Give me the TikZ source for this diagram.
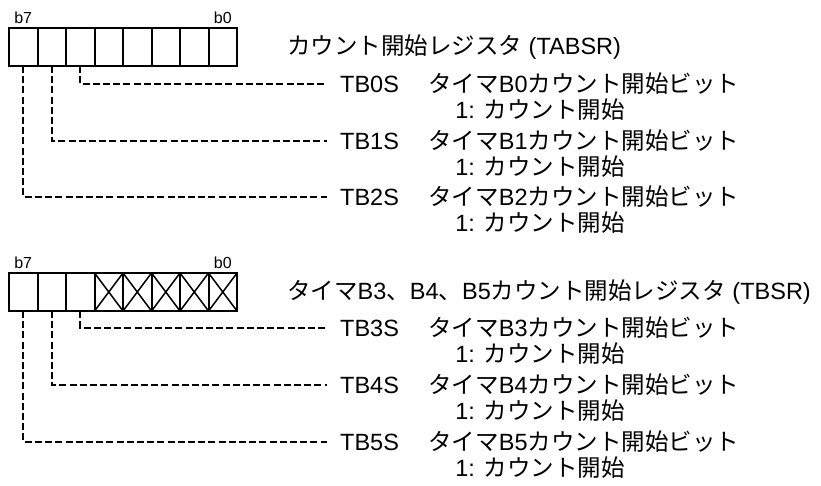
\documentclass[tikz,border=0pt]{standalone}
\usepackage{fontspec}
\setmainfont{Liberation Sans}
\newfontfamily\jafont{Noto Sans CJK JP}
\newcommand\ja[1]{{\jafont #1}}
\usetikzlibrary{positioning}
\tikzset{
  cell/.style={rectangle, draw, line width=2pt, minimum width=28.5pt, minimum height=38pt, inner sep=0pt, outer sep=0pt},
  unused/.style={path picture={\draw[line width=1.5pt] (path picture bounding box.north west) -- (path picture bounding box.south east)
                                                       (path picture bounding box.south west) -- (path picture bounding box.north east);}},
  bitlabel/.style={inner sep=0pt, font=\fontsize{16}{19}\selectfont},
  txt/.style={inner sep=0pt, font=\fontsize{23.5}{28}\selectfont},
  bitname/.style={txt, anchor=west, inner xsep=13pt},
  dashline/.style={line width=2.2pt, dash pattern=on 7pt off 3.2pt},
}

\begin{document}
\begin{tikzpicture}[x=1pt, y=1pt]
\useasboundingbox (0,0) rectangle (821,-486);

%Register TABSR
\node[cell] (tabsr7) at (23.25,-47) {};
\node[cell, right=0pt of tabsr7] (tabsr6) {};
\node[cell, right=0pt of tabsr6] (tabsr5) {};
\node[cell, right=0pt of tabsr5] (tabsr4) {};
\node[cell, right=0pt of tabsr4] (tabsr3) {};
\node[cell, right=0pt of tabsr3] (tabsr2) {};
\node[cell, right=0pt of tabsr2] (tabsr1) {};
\node[cell, right=0pt of tabsr1] (tabsr0) {};
\node[bitlabel, above=4.5pt of tabsr7] (tabsrb7) {b7};
\node[bitlabel, above=4.5pt of tabsr0] (tabsrb0) {b0};
\node[txt, right=50pt of tabsr0] (tabsrtitle) {\ja{カウント開始レジスタ} (TABSR)};

%Bits TABSR
\node[bitname] (tb0s) at (327,-84) {TB0S};
\node[txt, base right=16pt of tb0s] (tb0sdesc) {\ja{タイマ}B0\ja{カウント開始ビット}};
\node[txt, anchor=base west] (tb0sval) at ([xshift=27pt, yshift=-26pt]tb0sdesc.base west) {1: \ja{カウント開始}};
\node[bitname] (tb1s) at (327,-141) {TB1S};
\node[txt, base right=16pt of tb1s] (tb1sdesc) {\ja{タイマ}B1\ja{カウント開始ビット}};
\node[txt, anchor=base west] (tb1sval) at ([xshift=27pt, yshift=-26pt]tb1sdesc.base west) {1: \ja{カウント開始}};
\node[bitname] (tb2s) at (327,-197) {TB2S};
\node[txt, base right=16pt of tb2s] (tb2sdesc) {\ja{タイマ}B2\ja{カウント開始ビット}};
\node[txt, anchor=base west] (tb2sval) at ([xshift=27pt, yshift=-26pt]tb2sdesc.base west) {1: \ja{カウント開始}};

%Register TBSR
\node[cell] (tbsr7) at (23.25,-292) {};
\node[cell, right=0pt of tbsr7] (tbsr6) {};
\node[cell, right=0pt of tbsr6] (tbsr5) {};
\node[cell, unused, right=0pt of tbsr5] (tbsr4) {};
\node[cell, unused, right=0pt of tbsr4] (tbsr3) {};
\node[cell, unused, right=0pt of tbsr3] (tbsr2) {};
\node[cell, unused, right=0pt of tbsr2] (tbsr1) {};
\node[cell, unused, right=0pt of tbsr1] (tbsr0) {};
\node[bitlabel, above=4.5pt of tbsr7] (tbsrb7) {b7};
\node[bitlabel, above=4.5pt of tbsr0] (tbsrb0) {b0};
\node[txt, right=50pt of tbsr0] (tbsrtitle) {\ja{タイマ}B3\ja{、}B4\ja{、}B5\ja{カウント開始レジスタ} (TBSR)};

%Bits TBSR
\node[bitname] (tb3s) at (327,-328) {TB3S};
\node[txt, base right=16pt of tb3s] (tb3sdesc) {\ja{タイマ}B3\ja{カウント開始ビット}};
\node[txt, anchor=base west] (tb3sval) at ([xshift=27pt, yshift=-26pt]tb3sdesc.base west) {1: \ja{カウント開始}};
\node[bitname] (tb4s) at (327,-385) {TB4S};
\node[txt, base right=16pt of tb4s] (tb4sdesc) {\ja{タイマ}B4\ja{カウント開始ビット}};
\node[txt, anchor=base west] (tb4sval) at ([xshift=27pt, yshift=-26pt]tb4sdesc.base west) {1: \ja{カウント開始}};
\node[bitname] (tb5s) at (327,-442) {TB5S};
\node[txt, base right=16pt of tb5s] (tb5sdesc) {\ja{タイマ}B5\ja{カウント開始ビット}};
\node[txt, anchor=base west] (tb5sval) at ([xshift=27pt, yshift=-26pt]tb5sdesc.base west) {1: \ja{カウント開始}};

%Lines
\draw[dashline] (tabsr5.south) |- (tb0s.west);
\draw[dashline] (tabsr6.south) |- (tb1s.west);
\draw[dashline] (tabsr7.south) |- (tb2s.west);
\draw[dashline] (tbsr5.south) |- (tb3s.west);
\draw[dashline] (tbsr6.south) |- (tb4s.west);
\draw[dashline] (tbsr7.south) |- (tb5s.west);
\end{tikzpicture}
\end{document}
